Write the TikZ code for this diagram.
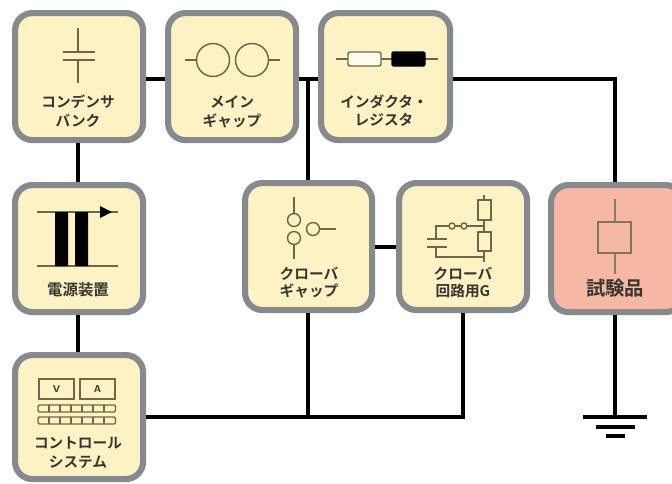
\documentclass[tikz,border=0pt]{standalone}
\usepackage{fontspec}
\newfontfamily\cjk{Noto Sans CJK JP}[BoldFont={Noto Sans CJK JP Bold}]
\definecolor{boxfill}{HTML}{FDF2C4}
\definecolor{testfill}{HTML}{F5B8A5}
\definecolor{boxedge}{HTML}{868A8E}
\definecolor{icon}{HTML}{6E6849}
\definecolor{labelc}{HTML}{38362C}
\tikzset{
  panel/.style={draw=boxedge,line width=4.6pt,rounded corners=13pt,fill=boxfill,anchor=north west,inner sep=0pt},
  wire/.style={line width=2.6pt,black},
  ic/.style={line width=1.1pt,draw=icon},
  lab/.style={text=labelc,font=\cjk\bfseries\fontsize{11}{12}\selectfont,inner sep=0pt,anchor=center},
}
\newcommand{\panelat}[6][boxfill]{\node[panel,fill=#1,minimum width=#5*0.75pt,minimum height=#6*0.75pt] (#2) at (#3,#4) {};}
\begin{document}
\begin{tikzpicture}[x=0.75pt,y=-0.75pt]
\useasboundingbox (0,0) rectangle (672,483);
% panels
\panelat{cap}{12}{10}{128}{127}
\panelat{main}{165}{10}{128}{127}
\panelat{ind}{318}{10}{129}{127}
\panelat{pow}{12}{182}{128}{127}
\panelat{ctl}{12}{352}{128}{124}
\panelat{gap}{242}{180}{127}{127}
\panelat{grp}{396}{180}{128}{127}
\panelat[testfill]{test}{548}{182}{132}{127}
% connectors
\coordinate (j1) at (308,79);
\coordinate (j2) at (308,417);
\coordinate (j3) at (463,417);
\coordinate (tr) at (615,79);
\coordinate (g0) at (615,417);
\coordinate (g1l) at (583,417); \coordinate (g1r) at (647,417);
\coordinate (g2l) at (596,427); \coordinate (g2r) at (635,427);
\coordinate (g3l) at (606,436); \coordinate (g3r) at (625,436);
\draw[wire] (cap.east|-j1) -- (main.west|-j1);
\draw[wire] (main.east|-j1) -- (ind.west|-j1);
\draw[wire] (j1) -- (gap.north-|j1);
\draw[wire] (ind.east|-j1) -- (tr) -- (test.north-|tr);
\draw[wire] (cap.south-|78,0) -- (pow.north-|78,0);
\draw[wire] (pow.south-|78,0) -- (ctl.north-|78,0);
\draw[wire] (gap.east|-0,247) -- (grp.west|-0,247);
\draw[wire] (ctl.east|-j3) -- (j3) -- (grp.south-|j3);
\draw[wire] (j2) -- (gap.south-|j2);
\draw[wire] (test.south-|g0) -- (g0);
\draw[wire] (g1l) -- (g1r);
\draw[wire] (g2l) -- (g2r);
\draw[wire] (g3l) -- (g3r);
% capacitor icon
\draw[ic] (78,28) -- (78,52) (63,52) -- (95,52) (63,60) -- (95,60) (78,60) -- (78,83);
% main gap icon
\draw[ic] (213,60) circle[radius=16.5*0.75pt] (252,60) circle[radius=16.5*0.75pt];
\draw[ic] (185,60) -- (197,60) (268,60) -- (280,60);
% inductor / resistor icon
\draw[ic] (336,59) -- (348,59) (381,59) -- (392,59) (425,59) -- (438,59);
\draw[ic,fill=white!70!boxfill,rounded corners=1.5pt] (348,52) rectangle (381,66);
\draw[ic,fill=black,draw=black,rounded corners=1pt] (392,52) rectangle (425,66);
% transformer icon
\draw[ic] (37,212) -- (118,212) (37,266) -- (118,266);
\fill[black] (55,212) rectangle (68,266) (75,212) rectangle (88,266);
\fill[black] (100,206) -- (112,212) -- (100,218) -- cycle;
% control icon
\draw[ic] (39,379) rectangle (74,399) (80,379) rectangle (115,399);
\node[lab,font=\sffamily\bfseries\fontsize{7.5}{9}\selectfont] (lv) at (56.5,389) {V};
\node[lab,font=\sffamily\bfseries\fontsize{7.5}{9}\selectfont] (la) at (97.5,389) {A};
\foreach \yy in {405,417}{
  \draw[ic,rounded corners=1pt] (38,\yy) rectangle (115.5,\yy+7);
  \foreach \xx in {49,60,71,82,93,104}{\draw[ic] (\xx,\yy) -- (\xx,\yy+7);}
}
% crowbar gap icon
\draw[ic] (294,197) -- (294,213.5) (294,244.5) -- (294,259);
\draw[ic] (294,220) circle[radius=6.5*0.75pt] (294,238) circle[radius=6.5*0.75pt] (313,229) circle[radius=6.5*0.75pt];
\draw[ic] (319.5,229) -- (336,229);
% crowbar circuit icon
\draw[ic] (484,195) -- (484,262) (484,257) -- (436,257) -- (436,247) (436,239) -- (436,226) -- (449,226);
\draw[ic] (455,226) -- (461,226) (467,226) -- (484,226);
\draw[ic] (452,226) circle[radius=3*0.75pt] (464,226) circle[radius=3*0.75pt];
\draw[ic,fill=boxfill] (478,200) rectangle (491,220) (478,232) rectangle (491,251);
\draw[ic] (427,239) -- (447,239) (427,247) -- (447,247);
% test object icon
\draw[ic,draw=icon!75!testfill] (615,199) -- (615,222) (615,253) -- (615,274);
\draw[ic,draw=icon!85!testfill] (598,222) rectangle (631,253);
% labels
\node[lab] (t1) at (78,102) {コンデンサ};
\node[lab] (t2) at (78,121) {バンク};
\node[lab] (t3) at (232,102) {メイン};
\node[lab] (t4) at (232,121) {ギャップ};
\node[lab] (t5) at (384,102) {インダクタ・};
\node[lab] (t6) at (384,120) {レジスタ};
\node[lab,font=\cjk\bfseries\fontsize{11.6}{13}\selectfont] (t7) at (78,290) {電源装置};
\node[lab] (t8) at (78,443) {コントロール};
\node[lab] (t9) at (78,462) {システム};
\node[lab] (t10) at (309,274) {クローバ};
\node[lab] (t11) at (309,291) {ギャップ};
\node[lab] (t12) at (463,274) {クローバ};
\node[lab] (t13) at (463,291) {回路用G};
\node[lab,font=\cjk\bfseries\fontsize{14.5}{16}\selectfont] (t14) at (615,288) {試験品};
\end{tikzpicture}
\end{document}
